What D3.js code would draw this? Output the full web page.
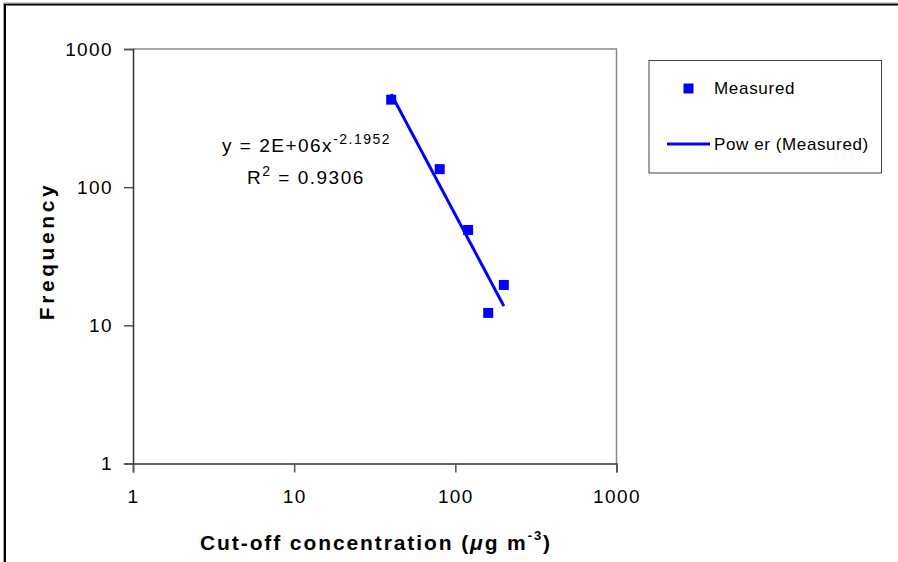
<!DOCTYPE html>
<html>
<head>
<meta charset="utf-8">
<script src="https://cdn.jsdelivr.net/npm/d3@7"></script>
<style>
  html, body { margin: 0; padding: 0; background: #fff; }
  svg { display: block; }
  text { font-family: "Liberation Sans", Arial, sans-serif; fill: #000; }
</style>
</head>
<body>
<svg id="chart" width="898" height="562"></svg>
<script>
// ---- data ----
const concentrations = [40, 80, 120, 160, 200];       // µg m-3
const frequencies    = [430, 135, 49, 12.3, 19.6];
const xTicks = [1, 10, 100, 1000];
const yTicks = [1, 10, 100, 1000];
const fitCoef = 1.55e6;       // power trendline y = a * x^b
const fitExp  = -2.1952;
const eqLabel = "y = 2E+06x";
const eqExpLabel = "-2.1952";
const r2Label = " = 0.9306";
const seriesName = "Measured";
const trendName = "Pow er (Measured)";
const xTitle = "Cut-off concentration (";
const yTitle = "Frequency";

// ---- layout ----
const svg = d3.select("#chart");
const L = 133, R = 616.5, T = 49, B = 463.5;
const x = d3.scaleLog().domain([1, 1000]).range([L, R]);
const y = d3.scaleLog().domain([1, 1000]).range([B, T]);

// outer frame
svg.append("path").attr("d", "M5,600 V4.5 H900").attr("fill", "none")
  .attr("stroke", "#000").attr("stroke-width", 2);
svg.append("path").attr("d", "M3.5,600 V3 H900").attr("fill", "none")
  .attr("stroke", "#999").attr("stroke-width", 1);

// plot frame (top/right)
svg.append("path").attr("d", `M${L},${T} H${R} V${B}`).attr("fill", "none")
  .attr("stroke", "#888").attr("stroke-width", 1.5);

// axes
const xAxis = svg.append("g").attr("transform", `translate(0,${B})`)
  .call(d3.axisBottom(x).tickValues(xTicks).tickFormat(d3.format("d")).tickSize(9).tickPadding(17));
const yAxis = svg.append("g").attr("transform", `translate(${L},0)`)
  .call(d3.axisLeft(y).tickValues(yTicks).tickFormat(d3.format("d")).tickSize(9).tickPadding(11));
[xAxis, yAxis].forEach(g => {
  g.select(".domain").attr("stroke", "#333").attr("stroke-width", 1.5);
  g.selectAll(".tick line").attr("stroke", "#555").attr("stroke-width", 1.5);
  g.selectAll(".tick text").attr("font-size", 19).attr("letter-spacing", 1.4)
    .attr("font-family", "Liberation Sans, Arial, sans-serif").attr("fill", "#000");
});

// trendline
const xs = d3.range(0, 41).map(i => Math.exp(Math.log(d3.min(concentrations)) + i / 40 * (Math.log(d3.max(concentrations)) - Math.log(d3.min(concentrations)))));
svg.append("path")
  .datum(xs)
  .attr("d", d3.line().x(d => x(d)).y(d => y(fitCoef * Math.pow(d, fitExp))))
  .attr("fill", "none").attr("stroke", "#0000ff").attr("stroke-width", 3);

// markers
const ms = 10;
svg.selectAll("rect.pt").data(concentrations).enter().append("rect")
  .attr("class", "pt")
  .attr("x", d => x(d) - ms / 2)
  .attr("y", (d, i) => y(frequencies[i]) - ms / 2)
  .attr("width", ms).attr("height", ms).attr("fill", "#0000ff");

// equation
const eq = svg.append("text").attr("x", 222).attr("y", 152).attr("font-size", 19).attr("letter-spacing", 1.5);
eq.append("tspan").text(eqLabel);
eq.append("tspan").attr("font-size", 14).attr("dy", -8).text(eqExpLabel);
const r2 = svg.append("text").attr("x", 247).attr("y", 184).attr("font-size", 19).attr("letter-spacing", 1.5);
r2.append("tspan").text("R");
r2.append("tspan").attr("font-size", 14).attr("dy", -8).text("2");
r2.append("tspan").attr("dy", 8).text(r2Label);

// axis titles
const xt = svg.append("text").attr("x", 376).attr("y", 550).attr("text-anchor", "middle")
  .attr("font-size", 21).attr("font-weight", "bold").attr("letter-spacing", 1.9);
xt.append("tspan").text(xTitle);
xt.append("tspan").attr("font-style", "italic").text("\u03bc");
xt.append("tspan").text("g m");
xt.append("tspan").attr("font-size", 13).attr("dy", -10).text("-3");
xt.append("tspan").attr("dy", 10).text(")");

svg.append("text").attr("transform", "translate(54,251) rotate(-90)")
  .attr("text-anchor", "middle").attr("font-size", 21).attr("font-weight", "bold")
  .attr("letter-spacing", 3.6).text(yTitle);

// legend
svg.append("rect").attr("x", 649).attr("y", 60.5).attr("width", 232.5).attr("height", 112.5)
  .attr("fill", "#fff").attr("stroke", "#444").attr("stroke-width", 1);
svg.append("rect").attr("x", 683.5).attr("y", 83.5).attr("width", 10).attr("height", 10).attr("fill", "#0000ff");
svg.append("text").attr("x", 714).attr("y", 94).attr("font-size", 17).attr("letter-spacing", 0.7).text(seriesName);
svg.append("line").attr("x1", 667).attr("x2", 710).attr("y1", 144).attr("y2", 144)
  .attr("stroke", "#0000ff").attr("stroke-width", 3);
svg.append("text").attr("x", 714).attr("y", 150).attr("font-size", 17).attr("letter-spacing", 0.6).text(trendName);
</script>
</body>
</html>
